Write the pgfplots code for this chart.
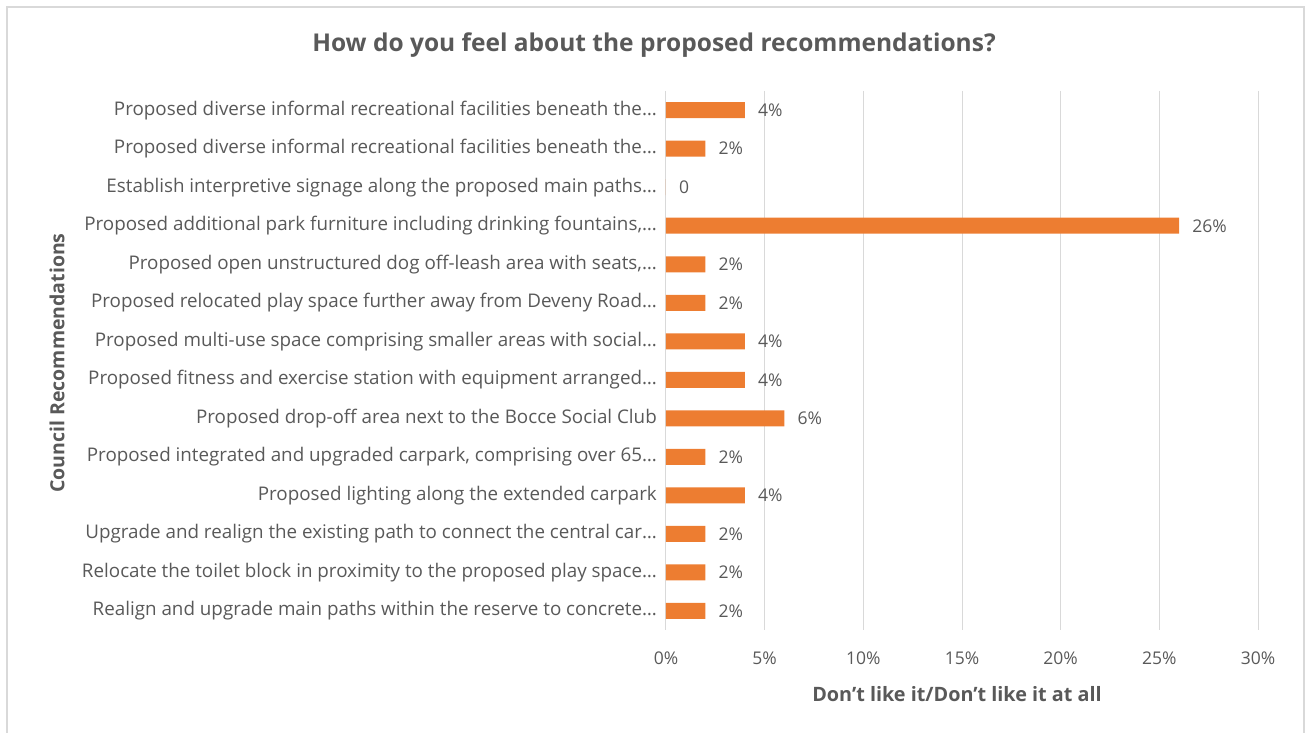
\documentclass[border=0pt]{standalone}
\usepackage{fontspec}
\setmainfont{Open Sans}
\usepackage{pgfplots}
\pgfplotsset{compat=1.18}
\definecolor{barc}{HTML}{ED7D31}
\definecolor{txt}{HTML}{595959}
\definecolor{grd}{HTML}{D9D9D9}

\pgfplotstableread{
i v l
0 4 4\%
1 2 2\%
2 0 0
3 26 26\%
4 2 2\%
5 2 2\%
6 4 4\%
7 4 4\%
8 6 6\%
9 2 2\%
10 4 4\%
11 2 2\%
12 2 2\%
13 2 2\%
}\dislike

\begin{document}
\begin{tikzpicture}[x=1pt,y=1pt]
\useasboundingbox (0,0) rectangle (1307,733);
\draw[grd, line width=1.5pt] (7,-5) -- (7,726) -- (1304,726) -- (1304,-5);
\begin{axis}[
  at={(666pt,103pt)}, anchor=south west,
  scale only axis, width=592pt, height=539pt,
  xbar, bar width=16pt,
  xmin=0, xmax=30, ymin=-0.5, ymax=13.5, y dir=reverse,
  axis line style={draw=none},
  major tick length=0pt,
  xmajorgrids, grid style={grd, line width=1pt},
  xtick={0,5,...,30},
  /pgf/number format/assume math mode=true,
  xticklabel={\pgfmathprintnumber{\tick}\%},
  xticklabel style={font=\fontsize{17.5}{20}\selectfont, text=txt, anchor=center, yshift=-28pt},
  ytick=data,
  yticklabels={
    {Proposed diverse informal recreational facilities beneath the…},
    {Proposed diverse informal recreational facilities beneath the…},
    {Establish interpretive signage along the proposed main paths…},
    {Proposed additional park furniture including drinking fountains,…},
    {Proposed open unstructured dog off-leash area with seats,…},
    {Proposed relocated play space further away from Deveny Road…},
    {Proposed multi-use space comprising smaller areas with social…},
    {Proposed fitness and exercise station with equipment arranged…},
    {Proposed drop-off area next to the Bocce Social Club\hspace{14pt}},
    {Proposed integrated and upgraded carpark, comprising over 65…},
    {Proposed lighting along the extended carpark\hspace{14pt}},
    {Upgrade and realign the existing path to connect the central car…},
    {Relocate the toilet block in proximity to the proposed play space…},
    {Realign and upgrade main paths within the reserve to concrete…}},
  yticklabel style={font=\fontsize{18.8}{22}\selectfont, text=txt, inner sep=0pt, xshift=-9pt},
  point meta=explicit symbolic,
  nodes near coords,
  nodes near coords style={font=\fontsize{17.5}{20}\selectfont, text=txt, anchor=west, inner sep=0pt, xshift=13pt},
]
\addplot[fill=barc, draw=none] table[x=v, y=i, meta=l] {\dislike};
\end{axis}
\node[font=\bfseries\fontsize{24.5}{28}\selectfont, text=txt] at (654,688) {How do you feel about the proposed recommendations?};
\node[font=\bfseries\fontsize{19.8}{24}\selectfont, text=txt] at (957,39) {Don't like it/Don't like it at all};
\node[font=\bfseries\fontsize{19.5}{24}\selectfont, text=txt, rotate=90] at (57,370) {Council Recommendations};
\end{tikzpicture}
\end{document}
